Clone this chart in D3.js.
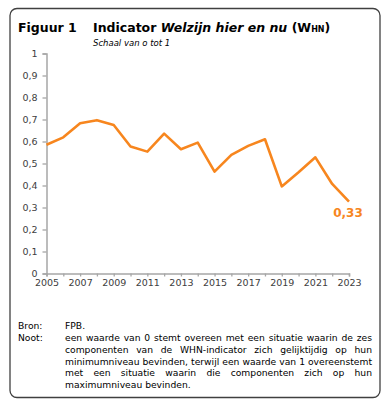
<!DOCTYPE html>
<html><head><meta charset="utf-8">
<script src="https://cdn.jsdelivr.net/npm/d3@7"></script>
<style>
body{margin:0;background:#fff;}
svg{display:block;font-family:"DejaVu Sans",Verdana,sans-serif;}
</style></head>
<body>
<svg id="c" width="388" height="402"></svg>
<script>
const years = [2005,2006,2007,2008,2009,2010,2011,2012,2013,2014,2015,2016,2017,2018,2019,2020,2021,2022,2023];
const values = [0.585,0.619,0.683,0.697,0.675,0.577,0.554,0.636,0.565,0.595,0.463,0.539,0.580,0.610,0.396,0.460,0.528,0.407,0.327];
const yTicks = [0,0.1,0.2,0.3,0.4,0.5,0.6,0.7,0.8,0.9,1];
const xLabelYears = [2005,2007,2009,2011,2013,2015,2017,2019,2021,2023];
const lastLabel = "0,33";
const noteText = "een waarde van 0 stemt overeen met een situatie waarin de zes componenten van de WHN-indicator zich gelijktijdig op hun minimumniveau bevinden, terwijl een waarde van 1 overeenstemt met een situatie waarin die componenten zich op hun maximumniveau bevinden.";

const svg = d3.select("#c");
const orange = "#F7861E";
const axisCol = "#A6A6A6";
const txtCol = "#404040";

// frame
svg.append("rect").attr("x",10).attr("y",8.5).attr("width",370).attr("height",389)
  .attr("rx",7).attr("fill","none").attr("stroke","#404040").attr("stroke-width",1.3);

// title
svg.append("text").attr("x",18).attr("y",32).attr("font-size",12.5).attr("font-weight","bold").attr("fill","#000").text("Figuur 1");
const t = svg.append("text").attr("x",93).attr("y",32).attr("font-size",12.5).attr("font-weight","bold").attr("fill","#000");
t.append("tspan").text("Indicator ");
t.append("tspan").attr("font-style","italic").text("Welzijn hier en nu");
t.append("tspan").text(" (W");
t.append("tspan").attr("font-size",8).text("HN");
t.append("tspan").text(")");
svg.append("text").attr("x",93).attr("y",45.5).attr("font-size",8.5).attr("font-style","italic").attr("fill","#000").text("Schaal van o tot 1");

// scales
const x = d3.scaleLinear().domain([2005,2023]).range([46.5,349]);
const y = d3.scaleLinear().domain([0,1]).range([273.5,53.5]);

const fmt = d => d===0?"0":d===1?"1":d3.format(".1f")(d).replace(".",",");

// y axis
const ya = svg.append("g").attr("transform","translate(46.5,0)")
  .call(d3.axisLeft(y).tickValues(yTicks).tickSize(4).tickPadding(5).tickFormat(fmt));
ya.select(".domain").attr("stroke",axisCol).attr("stroke-width",1.5);
ya.selectAll(".tick line").attr("stroke",axisCol).attr("stroke-width",1.3);
ya.selectAll(".tick text").attr("fill",txtCol).attr("font-size",9.5).attr("font-family","DejaVu Sans");

// x axis
const xa = svg.append("g").attr("transform","translate(0,273.5)")
  .call(d3.axisBottom(x).tickValues(years).tickSize(3).tickPadding(3)
    .tickFormat(d => xLabelYears.includes(d)? String(d) : ""));
xa.select(".domain").attr("stroke",axisCol).attr("stroke-width",1.5);
xa.selectAll(".tick line").attr("stroke",axisCol).attr("stroke-width",1.3);
xa.selectAll(".tick text").attr("fill",txtCol).attr("font-size",9.5).attr("font-family","DejaVu Sans");

// line
const line = d3.line().x((d,i)=>x(years[i])).y(d=>y(d));
svg.append("path").datum(values).attr("d",line).attr("fill","none")
  .attr("stroke",orange).attr("stroke-width",2.6).attr("stroke-linejoin","round");

// last label
svg.append("text").attr("x",x(years[years.length-1])-1).attr("y",y(values[values.length-1])+15)
  .attr("text-anchor","middle").attr("font-size",12).attr("font-weight","bold").attr("fill",orange).text(lastLabel);

// footer
const fs = 9.2;
svg.append("text").attr("x",18).attr("y",329).attr("font-size",fs).attr("fill","#000").text("Bron:");
svg.append("text").attr("x",65).attr("y",329).attr("font-size",fs).attr("fill","#000").text("FPB.");
svg.append("text").attr("x",18).attr("y",341).attr("font-size",fs).attr("fill","#000").text("Noot:");

// justified note
const left = 65, right = 372, lh = 11.8;
const words = noteText.split(" ");
const meas = svg.append("text").attr("font-size",fs).attr("visibility","hidden");
const w = s => { meas.text(s); return meas.node().getComputedTextLength(); };
const spaceW = w("a a") - w("aa");
let lines = [], cur = [];
words.forEach(wd => {
  const test = cur.concat([wd]).join(" ");
  if (cur.length && w(test) > right-left) { lines.push(cur); cur=[wd]; } else cur.push(wd);
});
if (cur.length) lines.push(cur);
meas.remove();
lines.forEach((ln,i) => {
  const yy = 341 + i*lh;
  if (i === lines.length-1) {
    svg.append("text").attr("x",left).attr("y",yy).attr("font-size",fs).attr("fill","#000").text(ln.join(" "));
  } else {
    const total = d3.sum(ln, wd => w2(wd));
    const gap = (right-left-total)/(ln.length-1);
    let xx = left;
    ln.forEach(wd => {
      svg.append("text").attr("x",xx).attr("y",yy).attr("font-size",fs).attr("fill","#000").text(wd);
      xx += w2(wd) + gap;
    });
  }
});
function w2(s){ const tt = svg.append("text").attr("font-size",fs).text(s); const v = tt.node().getComputedTextLength(); tt.remove(); return v; }
</script>
</body></html>
